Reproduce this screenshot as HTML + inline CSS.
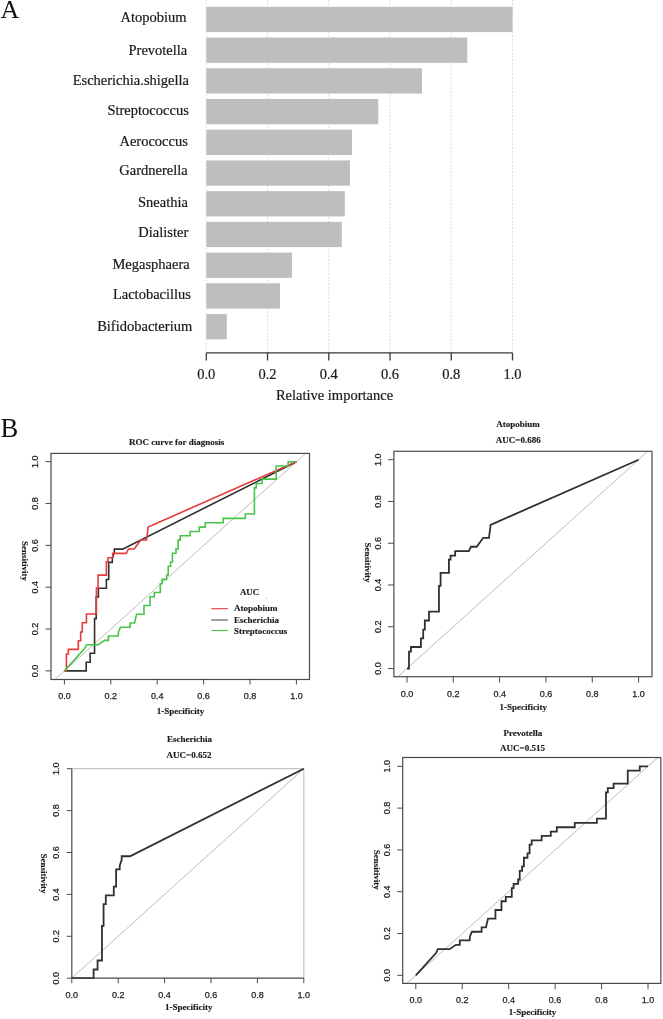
<!DOCTYPE html>
<html><head><meta charset="utf-8"><title>Figure</title>
<style>
html,body{margin:0;padding:0;background:#fff;width:663px;height:1019px;overflow:hidden;}
svg{position:absolute;left:0;top:0;display:block;will-change:transform;}
</style></head><body>
<svg width="663" height="1019" viewBox="0 0 663 1019">
<rect x="0" y="0" width="663" height="1019" fill="#fff"/>
<text x="0.5" y="17.8" font-family='"Liberation Serif", serif' font-size="26" font-weight="normal" text-anchor="start" fill="#111">A</text>
<line x1="206.3" y1="0" x2="206.3" y2="352" stroke="#d6d6d6" stroke-width="0.9" stroke-dasharray="1.8 1.7"/>
<line x1="267.54" y1="0" x2="267.54" y2="352" stroke="#d6d6d6" stroke-width="0.9" stroke-dasharray="1.8 1.7"/>
<line x1="328.78" y1="0" x2="328.78" y2="352" stroke="#d6d6d6" stroke-width="0.9" stroke-dasharray="1.8 1.7"/>
<line x1="390.02" y1="0" x2="390.02" y2="352" stroke="#d6d6d6" stroke-width="0.9" stroke-dasharray="1.8 1.7"/>
<line x1="451.26" y1="0" x2="451.26" y2="352" stroke="#d6d6d6" stroke-width="0.9" stroke-dasharray="1.8 1.7"/>
<line x1="512.5" y1="0" x2="512.5" y2="352" stroke="#d6d6d6" stroke-width="0.9" stroke-dasharray="1.8 1.7"/>
<rect x="206.3" y="6.8" width="306.2" height="25.3" fill="#bebebe"/>
<text x="186.6" y="21.9" font-family='"Liberation Serif", serif' font-size="14.5" font-weight="normal" text-anchor="end" fill="#1a1a1a" stroke="#1a1a1a" stroke-width="0.2">Atopobium</text>
<rect x="206.3" y="37.52" width="261" height="25.3" fill="#bebebe"/>
<text x="187.3" y="54.7" font-family='"Liberation Serif", serif' font-size="14.5" font-weight="normal" text-anchor="end" fill="#1a1a1a" stroke="#1a1a1a" stroke-width="0.2">Prevotella</text>
<rect x="206.3" y="68.24" width="215.7" height="25.3" fill="#bebebe"/>
<text x="189" y="85.3" font-family='"Liberation Serif", serif' font-size="14.5" font-weight="normal" text-anchor="end" fill="#1a1a1a" stroke="#1a1a1a" stroke-width="0.2">Escherichia.shigella</text>
<rect x="206.3" y="98.96" width="172" height="25.3" fill="#bebebe"/>
<text x="188.8" y="115.4" font-family='"Liberation Serif", serif' font-size="14.5" font-weight="normal" text-anchor="end" fill="#1a1a1a" stroke="#1a1a1a" stroke-width="0.2">Streptococcus</text>
<rect x="206.3" y="129.68" width="145.7" height="25.3" fill="#bebebe"/>
<text x="187.9" y="145.6" font-family='"Liberation Serif", serif' font-size="14.5" font-weight="normal" text-anchor="end" fill="#1a1a1a" stroke="#1a1a1a" stroke-width="0.2">Aerococcus</text>
<rect x="206.3" y="160.4" width="143.6" height="25.3" fill="#bebebe"/>
<text x="187.7" y="175" font-family='"Liberation Serif", serif' font-size="14.5" font-weight="normal" text-anchor="end" fill="#1a1a1a" stroke="#1a1a1a" stroke-width="0.2">Gardnerella</text>
<rect x="206.3" y="191.12" width="138.5" height="25.3" fill="#bebebe"/>
<text x="187.9" y="207.4" font-family='"Liberation Serif", serif' font-size="14.5" font-weight="normal" text-anchor="end" fill="#1a1a1a" stroke="#1a1a1a" stroke-width="0.2">Sneathia</text>
<rect x="206.3" y="221.84" width="135.5" height="25.3" fill="#bebebe"/>
<text x="188.3" y="236.9" font-family='"Liberation Serif", serif' font-size="14.5" font-weight="normal" text-anchor="end" fill="#1a1a1a" stroke="#1a1a1a" stroke-width="0.2">Dialister</text>
<rect x="206.3" y="252.56" width="85.7" height="25.3" fill="#bebebe"/>
<text x="189.7" y="268.6" font-family='"Liberation Serif", serif' font-size="14.5" font-weight="normal" text-anchor="end" fill="#1a1a1a" stroke="#1a1a1a" stroke-width="0.2">Megasphaera</text>
<rect x="206.3" y="283.28" width="73.7" height="25.3" fill="#bebebe"/>
<text x="191" y="299" font-family='"Liberation Serif", serif' font-size="14.5" font-weight="normal" text-anchor="end" fill="#1a1a1a" stroke="#1a1a1a" stroke-width="0.2">Lactobacillus</text>
<rect x="206.3" y="314" width="20.5" height="25.3" fill="#bebebe"/>
<text x="192.2" y="331.4" font-family='"Liberation Serif", serif' font-size="14.5" font-weight="normal" text-anchor="end" fill="#1a1a1a" stroke="#1a1a1a" stroke-width="0.2">Bifidobacterium</text>
<line x1="206.3" y1="352.8" x2="512.5" y2="352.8" stroke="#3a3a3a" stroke-width="1.3"/>
<line x1="206.3" y1="352.8" x2="206.3" y2="360.5" stroke="#3a3a3a" stroke-width="1.3"/>
<text x="206.3" y="378.5" font-family='"Liberation Serif", serif' font-size="14.5" font-weight="normal" text-anchor="middle" fill="#1a1a1a" stroke="#1a1a1a" stroke-width="0.2">0.0</text>
<line x1="267.54" y1="352.8" x2="267.54" y2="360.5" stroke="#3a3a3a" stroke-width="1.3"/>
<text x="267.54" y="378.5" font-family='"Liberation Serif", serif' font-size="14.5" font-weight="normal" text-anchor="middle" fill="#1a1a1a" stroke="#1a1a1a" stroke-width="0.2">0.2</text>
<line x1="328.78" y1="352.8" x2="328.78" y2="360.5" stroke="#3a3a3a" stroke-width="1.3"/>
<text x="328.78" y="378.5" font-family='"Liberation Serif", serif' font-size="14.5" font-weight="normal" text-anchor="middle" fill="#1a1a1a" stroke="#1a1a1a" stroke-width="0.2">0.4</text>
<line x1="390.02" y1="352.8" x2="390.02" y2="360.5" stroke="#3a3a3a" stroke-width="1.3"/>
<text x="390.02" y="378.5" font-family='"Liberation Serif", serif' font-size="14.5" font-weight="normal" text-anchor="middle" fill="#1a1a1a" stroke="#1a1a1a" stroke-width="0.2">0.6</text>
<line x1="451.26" y1="352.8" x2="451.26" y2="360.5" stroke="#3a3a3a" stroke-width="1.3"/>
<text x="451.26" y="378.5" font-family='"Liberation Serif", serif' font-size="14.5" font-weight="normal" text-anchor="middle" fill="#1a1a1a" stroke="#1a1a1a" stroke-width="0.2">0.8</text>
<line x1="512.5" y1="352.8" x2="512.5" y2="360.5" stroke="#3a3a3a" stroke-width="1.3"/>
<text x="512.5" y="378.5" font-family='"Liberation Serif", serif' font-size="14.5" font-weight="normal" text-anchor="middle" fill="#1a1a1a" stroke="#1a1a1a" stroke-width="0.2">1.0</text>
<text x="334.5" y="400" font-family='"Liberation Serif", serif' font-size="14.5" font-weight="normal" text-anchor="middle" fill="#1a1a1a" stroke="#1a1a1a" stroke-width="0.2">Relative importance</text>
<text x="0.6" y="436.7" font-family='"Liberation Serif", serif' font-size="26.6" font-weight="normal" text-anchor="start" fill="#111" transform="translate(0 0)">B</text>
<text x="129.1" y="445" font-family='"Liberation Serif", serif' font-size="9" font-weight="bold" text-anchor="start" fill="#1a1a1a" stroke="#1a1a1a" stroke-width="0.15">ROC curve for diagnosis</text>
<clipPath id="c1"><rect x="51" y="453.4" width="258.5" height="226.1"/></clipPath>
<g clip-path="url(#c1)">
<line x1="18" y1="712.74" x2="342.8" y2="419.86" stroke="#b4b4b4" stroke-width="0.9"/>
<polyline points="64.4,670.9 86.21,670.9 86.21,662.22 90.15,662.22 90.15,653.22 94.56,653.22 94.56,618.6 96.18,618.6 96.18,596.84 98.41,596.84 98.41,588.27 106.39,588.27 106.39,579.48 108.71,579.48 108.71,562.33 112.31,562.33 112.31,558.56 114.28,552.7 114.28,549.15 122.63,549.15 296.4,461.7" fill="none" stroke="#303030" stroke-width="1.6" stroke-linejoin="miter"/>
<polyline points="64.4,670.9 66.4,670.9 66.4,653.95 68.34,653.95 68.34,649.35 78.32,649.35 78.32,640.78 80.64,640.78 80.64,631.99 82.26,631.99 82.26,622.78 86.44,622.78 86.44,614 96.42,614 96.42,588.06 98.04,588.06 98.04,575.09 106.39,575.09 106.39,561.8 108.02,561.8 108.02,557.72 112.66,557.72 112.66,553.33 126.34,553.33 128.43,548.94 134.23,548.94 140.73,539.94 146.53,539.94 148.15,526.97 296.4,461.7" fill="none" stroke="#e63a3c" stroke-width="1.6" stroke-linejoin="miter"/>
<polyline points="64.4,670.9 84.82,648.31 86.44,644.75 98.18,644.75 104.54,640.4 108.36,640.4 108.36,636.03 118.15,636.03 118.55,631.67 120.45,627.32 130.15,627.32 130.15,622.95 134.46,622.95 136.55,614.25 143.98,614.25 143.98,605.52 150.01,605.52 150.01,596.8 154.32,596.8 154.32,592.45 160.31,592.45 160.31,583.73 162.07,583.73 162.07,579.38 166.62,579.38 166.62,575.02 168.22,575.02 168.22,566.3 170.61,566.3 170.61,561.95 172.4,561.95 172.4,553.23 175.99,553.23 175.99,548.87 178.08,548.87 178.08,540.15 180.17,540.15 180.17,535.8 190.14,535.8 190.14,531.43 199.26,531.43 199.26,527.08 205.27,527.08 205.27,522.72 223.2,522.72 223.2,518.35 245.31,518.35 245.31,514 254.41,514 254.41,487.85 256.24,487.85 256.24,483.5 262.06,483.5 262.06,479.13 276.17,479.13 276.17,466.05 288.16,466.05 288.16,461.7 296.4,461.7" fill="none" stroke="#48c448" stroke-width="1.6" stroke-linejoin="miter"/>
</g>
<rect x="51" y="453.4" width="258.5" height="226.1" fill="none" stroke="#4a4a4a" stroke-width="1.2"/>
<line x1="45.5" y1="670.9" x2="51" y2="670.9" stroke="#4a4a4a" stroke-width="1"/>
<text x="38" y="670.9" font-family='"Liberation Sans", sans-serif' font-size="9" font-weight="normal" text-anchor="middle" fill="#222" transform="rotate(-90 38 670.9)" stroke="#222" stroke-width="0.25">0.0</text>
<line x1="64.4" y1="679.5" x2="64.4" y2="684.5" stroke="#4a4a4a" stroke-width="1"/>
<text x="64.4" y="698.8" font-family='"Liberation Sans", sans-serif' font-size="9" font-weight="normal" text-anchor="middle" fill="#222" stroke="#222" stroke-width="0.25">0.0</text>
<line x1="45.5" y1="629.06" x2="51" y2="629.06" stroke="#4a4a4a" stroke-width="1"/>
<text x="38" y="629.06" font-family='"Liberation Sans", sans-serif' font-size="9" font-weight="normal" text-anchor="middle" fill="#222" transform="rotate(-90 38 629.06)" stroke="#222" stroke-width="0.25">0.2</text>
<line x1="110.8" y1="679.5" x2="110.8" y2="684.5" stroke="#4a4a4a" stroke-width="1"/>
<text x="110.8" y="698.8" font-family='"Liberation Sans", sans-serif' font-size="9" font-weight="normal" text-anchor="middle" fill="#222" stroke="#222" stroke-width="0.25">0.2</text>
<line x1="45.5" y1="587.22" x2="51" y2="587.22" stroke="#4a4a4a" stroke-width="1"/>
<text x="38" y="587.22" font-family='"Liberation Sans", sans-serif' font-size="9" font-weight="normal" text-anchor="middle" fill="#222" transform="rotate(-90 38 587.22)" stroke="#222" stroke-width="0.25">0.4</text>
<line x1="157.2" y1="679.5" x2="157.2" y2="684.5" stroke="#4a4a4a" stroke-width="1"/>
<text x="157.2" y="698.8" font-family='"Liberation Sans", sans-serif' font-size="9" font-weight="normal" text-anchor="middle" fill="#222" stroke="#222" stroke-width="0.25">0.4</text>
<line x1="45.5" y1="545.38" x2="51" y2="545.38" stroke="#4a4a4a" stroke-width="1"/>
<text x="38" y="545.38" font-family='"Liberation Sans", sans-serif' font-size="9" font-weight="normal" text-anchor="middle" fill="#222" transform="rotate(-90 38 545.38)" stroke="#222" stroke-width="0.25">0.6</text>
<line x1="203.6" y1="679.5" x2="203.6" y2="684.5" stroke="#4a4a4a" stroke-width="1"/>
<text x="203.6" y="698.8" font-family='"Liberation Sans", sans-serif' font-size="9" font-weight="normal" text-anchor="middle" fill="#222" stroke="#222" stroke-width="0.25">0.6</text>
<line x1="45.5" y1="503.54" x2="51" y2="503.54" stroke="#4a4a4a" stroke-width="1"/>
<text x="38" y="503.54" font-family='"Liberation Sans", sans-serif' font-size="9" font-weight="normal" text-anchor="middle" fill="#222" transform="rotate(-90 38 503.54)" stroke="#222" stroke-width="0.25">0.8</text>
<line x1="250" y1="679.5" x2="250" y2="684.5" stroke="#4a4a4a" stroke-width="1"/>
<text x="250" y="698.8" font-family='"Liberation Sans", sans-serif' font-size="9" font-weight="normal" text-anchor="middle" fill="#222" stroke="#222" stroke-width="0.25">0.8</text>
<line x1="45.5" y1="461.7" x2="51" y2="461.7" stroke="#4a4a4a" stroke-width="1"/>
<text x="38" y="461.7" font-family='"Liberation Sans", sans-serif' font-size="9" font-weight="normal" text-anchor="middle" fill="#222" transform="rotate(-90 38 461.7)" stroke="#222" stroke-width="0.25">1.0</text>
<line x1="296.4" y1="679.5" x2="296.4" y2="684.5" stroke="#4a4a4a" stroke-width="1"/>
<text x="296.4" y="698.8" font-family='"Liberation Sans", sans-serif' font-size="9" font-weight="normal" text-anchor="middle" fill="#222" stroke="#222" stroke-width="0.25">1.0</text>
<text x="156.8" y="713.5" font-family='"Liberation Serif", serif' font-size="9" font-weight="bold" text-anchor="start" fill="#1a1a1a" stroke="#1a1a1a" stroke-width="0.15">1-Specificity</text>
<text x="21.5" y="540.9" font-family='"Liberation Serif", serif' font-size="9" font-weight="bold" text-anchor="start" fill="#1a1a1a" transform="rotate(90 21.5 540.9)" stroke="#1a1a1a" stroke-width="0.15">Sensitivity</text>
<text x="240" y="594.8" font-family='"Liberation Serif", serif' font-size="8.8" font-weight="bold" text-anchor="start" fill="#1a1a1a" stroke="#1a1a1a" stroke-width="0.15">AUC</text>
<circle cx="266.4" cy="598.1" r="0.5" fill="#888"/>
<line x1="211.3" y1="608.7" x2="227.9" y2="608.7" stroke="#e63a3c" stroke-width="1.1"/>
<text x="234" y="611.4" font-family='"Liberation Serif", serif' font-size="9" font-weight="bold" text-anchor="start" fill="#1a1a1a" stroke="#1a1a1a" stroke-width="0.15">Atopobium</text>
<line x1="211.3" y1="620" x2="227.9" y2="620" stroke="#505050" stroke-width="1.1"/>
<text x="234" y="622.7" font-family='"Liberation Serif", serif' font-size="9" font-weight="bold" text-anchor="start" fill="#1a1a1a" stroke="#1a1a1a" stroke-width="0.15">Escherichia</text>
<line x1="211.3" y1="630.5" x2="227.9" y2="630.5" stroke="#48c448" stroke-width="1.1"/>
<text x="234" y="633.5" font-family='"Liberation Serif", serif' font-size="9" font-weight="bold" text-anchor="start" fill="#1a1a1a" stroke="#1a1a1a" stroke-width="0.15">Streptococcus</text>
<text x="496.3" y="426.8" font-family='"Liberation Serif", serif' font-size="9" font-weight="bold" text-anchor="start" fill="#1a1a1a" stroke="#1a1a1a" stroke-width="0.15">Atopobium</text>
<text x="495.8" y="442.9" font-family='"Liberation Serif", serif' font-size="9" font-weight="bold" text-anchor="start" fill="#1a1a1a" stroke="#1a1a1a" stroke-width="0.15">AUC=0.686</text>
<clipPath id="c2"><rect x="393.9" y="451.3" width="258.1" height="225.4"/></clipPath>
<g clip-path="url(#c2)">
<line x1="360.68" y1="710.26" x2="684.92" y2="417.94" stroke="#b4b4b4" stroke-width="0.9"/>
<polyline points="407,668.5 408.99,668.5 408.99,651.59 410.94,651.59 410.94,646.99 420.9,646.99 420.9,638.43 423.21,638.43 423.21,629.66 424.83,629.66 424.83,620.48 429,620.48 429,611.71 438.96,611.71 438.96,585.82 440.58,585.82 440.58,572.87 448.92,572.87 448.92,559.61 450.54,559.61 450.54,555.54 455.17,555.54 455.17,551.15 468.84,551.15 470.92,546.77 476.71,546.77 483.2,537.79 488.99,537.79 490.61,524.85 638.6,459.7" fill="none" stroke="#303030" stroke-width="1.8" stroke-linejoin="miter"/>
</g>
<rect x="393.9" y="451.3" width="258.1" height="225.4" fill="none" stroke="#4a4a4a" stroke-width="1.2"/>
<line x1="388" y1="668.5" x2="393.9" y2="668.5" stroke="#4a4a4a" stroke-width="1"/>
<text x="381.2" y="668.5" font-family='"Liberation Sans", sans-serif' font-size="9" font-weight="normal" text-anchor="middle" fill="#222" transform="rotate(-90 381.2 668.5)" stroke="#222" stroke-width="0.25">0.0</text>
<line x1="407" y1="676.7" x2="407" y2="682.5" stroke="#4a4a4a" stroke-width="1"/>
<text x="407" y="696.6" font-family='"Liberation Sans", sans-serif' font-size="9" font-weight="normal" text-anchor="middle" fill="#222" stroke="#222" stroke-width="0.25">0.0</text>
<line x1="388" y1="626.74" x2="393.9" y2="626.74" stroke="#4a4a4a" stroke-width="1"/>
<text x="381.2" y="626.74" font-family='"Liberation Sans", sans-serif' font-size="9" font-weight="normal" text-anchor="middle" fill="#222" transform="rotate(-90 381.2 626.74)" stroke="#222" stroke-width="0.25">0.2</text>
<line x1="453.32" y1="676.7" x2="453.32" y2="682.5" stroke="#4a4a4a" stroke-width="1"/>
<text x="453.32" y="696.6" font-family='"Liberation Sans", sans-serif' font-size="9" font-weight="normal" text-anchor="middle" fill="#222" stroke="#222" stroke-width="0.25">0.2</text>
<line x1="388" y1="584.98" x2="393.9" y2="584.98" stroke="#4a4a4a" stroke-width="1"/>
<text x="381.2" y="584.98" font-family='"Liberation Sans", sans-serif' font-size="9" font-weight="normal" text-anchor="middle" fill="#222" transform="rotate(-90 381.2 584.98)" stroke="#222" stroke-width="0.25">0.4</text>
<line x1="499.64" y1="676.7" x2="499.64" y2="682.5" stroke="#4a4a4a" stroke-width="1"/>
<text x="499.64" y="696.6" font-family='"Liberation Sans", sans-serif' font-size="9" font-weight="normal" text-anchor="middle" fill="#222" stroke="#222" stroke-width="0.25">0.4</text>
<line x1="388" y1="543.22" x2="393.9" y2="543.22" stroke="#4a4a4a" stroke-width="1"/>
<text x="381.2" y="543.22" font-family='"Liberation Sans", sans-serif' font-size="9" font-weight="normal" text-anchor="middle" fill="#222" transform="rotate(-90 381.2 543.22)" stroke="#222" stroke-width="0.25">0.6</text>
<line x1="545.96" y1="676.7" x2="545.96" y2="682.5" stroke="#4a4a4a" stroke-width="1"/>
<text x="545.96" y="696.6" font-family='"Liberation Sans", sans-serif' font-size="9" font-weight="normal" text-anchor="middle" fill="#222" stroke="#222" stroke-width="0.25">0.6</text>
<line x1="388" y1="501.46" x2="393.9" y2="501.46" stroke="#4a4a4a" stroke-width="1"/>
<text x="381.2" y="501.46" font-family='"Liberation Sans", sans-serif' font-size="9" font-weight="normal" text-anchor="middle" fill="#222" transform="rotate(-90 381.2 501.46)" stroke="#222" stroke-width="0.25">0.8</text>
<line x1="592.28" y1="676.7" x2="592.28" y2="682.5" stroke="#4a4a4a" stroke-width="1"/>
<text x="592.28" y="696.6" font-family='"Liberation Sans", sans-serif' font-size="9" font-weight="normal" text-anchor="middle" fill="#222" stroke="#222" stroke-width="0.25">0.8</text>
<line x1="388" y1="459.7" x2="393.9" y2="459.7" stroke="#4a4a4a" stroke-width="1"/>
<text x="381.2" y="459.7" font-family='"Liberation Sans", sans-serif' font-size="9" font-weight="normal" text-anchor="middle" fill="#222" transform="rotate(-90 381.2 459.7)" stroke="#222" stroke-width="0.25">1.0</text>
<line x1="638.6" y1="676.7" x2="638.6" y2="682.5" stroke="#4a4a4a" stroke-width="1"/>
<text x="638.6" y="696.6" font-family='"Liberation Sans", sans-serif' font-size="9" font-weight="normal" text-anchor="middle" fill="#222" stroke="#222" stroke-width="0.25">1.0</text>
<text x="499.6" y="709.9" font-family='"Liberation Serif", serif' font-size="9" font-weight="bold" text-anchor="start" fill="#1a1a1a" stroke="#1a1a1a" stroke-width="0.15">1-Specificity</text>
<text x="365" y="542.4" font-family='"Liberation Serif", serif' font-size="9" font-weight="bold" text-anchor="start" fill="#1a1a1a" transform="rotate(90 365 542.4)" stroke="#1a1a1a" stroke-width="0.15">Sensitivity</text>
<text x="166.9" y="742.1" font-family='"Liberation Serif", serif' font-size="9" font-weight="bold" text-anchor="start" fill="#1a1a1a" stroke="#1a1a1a" stroke-width="0.15">Escherichia</text>
<text x="166.6" y="757.7" font-family='"Liberation Serif", serif' font-size="9" font-weight="bold" text-anchor="start" fill="#1a1a1a" stroke="#1a1a1a" stroke-width="0.15">AUC=0.652</text>
<clipPath id="c3"><rect x="71.8" y="768.7" width="232" height="209.5"/></clipPath>
<line x1="71.8" y1="768.7" x2="303.8" y2="768.7" stroke="#c4c4c4" stroke-width="1.2"/>
<line x1="303.8" y1="768.7" x2="303.8" y2="978.2" stroke="#c4c4c4" stroke-width="1.2"/>
<g clip-path="url(#c3)">
<line x1="71.8" y1="978.2" x2="303.8" y2="768.7" stroke="#b4b4b4" stroke-width="0.9"/>
</g>
<polyline points="71.8,978.2 93.61,978.2 93.61,969.51 97.55,969.51 97.55,960.5 101.96,960.5 101.96,925.83 103.58,925.83 103.58,904.04 105.81,904.04 105.81,895.45 113.79,895.45 113.79,886.65 116.11,886.65 116.11,869.47 119.71,869.47 119.71,865.7 121.68,859.83 121.68,856.27 130.03,856.27 303.8,768.7" fill="none" stroke="#303030" stroke-width="1.8" stroke-linejoin="miter"/>
<line x1="71.8" y1="978.2" x2="71.8" y2="768.7" stroke="#4a4a4a" stroke-width="1.2"/>
<line x1="71.8" y1="978.2" x2="303.8" y2="978.2" stroke="#4a4a4a" stroke-width="1.2"/>
<line x1="66.8" y1="978.2" x2="71.8" y2="978.2" stroke="#4a4a4a" stroke-width="1"/>
<text x="59.2" y="978.2" font-family='"Liberation Sans", sans-serif' font-size="9" font-weight="normal" text-anchor="middle" fill="#222" transform="rotate(-90 59.2 978.2)" stroke="#222" stroke-width="0.25">0.0</text>
<line x1="71.8" y1="978.2" x2="71.8" y2="983.2" stroke="#4a4a4a" stroke-width="1"/>
<text x="71.8" y="997.7" font-family='"Liberation Sans", sans-serif' font-size="9" font-weight="normal" text-anchor="middle" fill="#222" stroke="#222" stroke-width="0.25">0.0</text>
<line x1="66.8" y1="936.3" x2="71.8" y2="936.3" stroke="#4a4a4a" stroke-width="1"/>
<text x="59.2" y="936.3" font-family='"Liberation Sans", sans-serif' font-size="9" font-weight="normal" text-anchor="middle" fill="#222" transform="rotate(-90 59.2 936.3)" stroke="#222" stroke-width="0.25">0.2</text>
<line x1="118.2" y1="978.2" x2="118.2" y2="983.2" stroke="#4a4a4a" stroke-width="1"/>
<text x="118.2" y="997.7" font-family='"Liberation Sans", sans-serif' font-size="9" font-weight="normal" text-anchor="middle" fill="#222" stroke="#222" stroke-width="0.25">0.2</text>
<line x1="66.8" y1="894.4" x2="71.8" y2="894.4" stroke="#4a4a4a" stroke-width="1"/>
<text x="59.2" y="894.4" font-family='"Liberation Sans", sans-serif' font-size="9" font-weight="normal" text-anchor="middle" fill="#222" transform="rotate(-90 59.2 894.4)" stroke="#222" stroke-width="0.25">0.4</text>
<line x1="164.6" y1="978.2" x2="164.6" y2="983.2" stroke="#4a4a4a" stroke-width="1"/>
<text x="164.6" y="997.7" font-family='"Liberation Sans", sans-serif' font-size="9" font-weight="normal" text-anchor="middle" fill="#222" stroke="#222" stroke-width="0.25">0.4</text>
<line x1="66.8" y1="852.5" x2="71.8" y2="852.5" stroke="#4a4a4a" stroke-width="1"/>
<text x="59.2" y="852.5" font-family='"Liberation Sans", sans-serif' font-size="9" font-weight="normal" text-anchor="middle" fill="#222" transform="rotate(-90 59.2 852.5)" stroke="#222" stroke-width="0.25">0.6</text>
<line x1="211" y1="978.2" x2="211" y2="983.2" stroke="#4a4a4a" stroke-width="1"/>
<text x="211" y="997.7" font-family='"Liberation Sans", sans-serif' font-size="9" font-weight="normal" text-anchor="middle" fill="#222" stroke="#222" stroke-width="0.25">0.6</text>
<line x1="66.8" y1="810.6" x2="71.8" y2="810.6" stroke="#4a4a4a" stroke-width="1"/>
<text x="59.2" y="810.6" font-family='"Liberation Sans", sans-serif' font-size="9" font-weight="normal" text-anchor="middle" fill="#222" transform="rotate(-90 59.2 810.6)" stroke="#222" stroke-width="0.25">0.8</text>
<line x1="257.4" y1="978.2" x2="257.4" y2="983.2" stroke="#4a4a4a" stroke-width="1"/>
<text x="257.4" y="997.7" font-family='"Liberation Sans", sans-serif' font-size="9" font-weight="normal" text-anchor="middle" fill="#222" stroke="#222" stroke-width="0.25">0.8</text>
<line x1="66.8" y1="768.7" x2="71.8" y2="768.7" stroke="#4a4a4a" stroke-width="1"/>
<text x="59.2" y="768.7" font-family='"Liberation Sans", sans-serif' font-size="9" font-weight="normal" text-anchor="middle" fill="#222" transform="rotate(-90 59.2 768.7)" stroke="#222" stroke-width="0.25">1.0</text>
<line x1="303.8" y1="978.2" x2="303.8" y2="983.2" stroke="#4a4a4a" stroke-width="1"/>
<text x="303.8" y="997.7" font-family='"Liberation Sans", sans-serif' font-size="9" font-weight="normal" text-anchor="middle" fill="#222" stroke="#222" stroke-width="0.25">1.0</text>
<text x="164.9" y="1010.3" font-family='"Liberation Serif", serif' font-size="9" font-weight="bold" text-anchor="start" fill="#1a1a1a" stroke="#1a1a1a" stroke-width="0.15">1-Specificity</text>
<text x="40.6" y="853.6" font-family='"Liberation Serif", serif' font-size="9" font-weight="bold" text-anchor="start" fill="#1a1a1a" transform="rotate(90 40.6 853.6)" stroke="#1a1a1a" stroke-width="0.15">Sensitivity</text>
<text x="503.4" y="735.6" font-family='"Liberation Serif", serif' font-size="9" font-weight="bold" text-anchor="start" fill="#1a1a1a" stroke="#1a1a1a" stroke-width="0.15">Prevotella</text>
<text x="500" y="751.4" font-family='"Liberation Serif", serif' font-size="9" font-weight="bold" text-anchor="start" fill="#1a1a1a" stroke="#1a1a1a" stroke-width="0.15">AUC=0.515</text>
<clipPath id="c4"><rect x="402.7" y="757.5" width="258.1" height="225.9"/></clipPath>
<g clip-path="url(#c4)">
<line x1="369.36" y1="1017.1" x2="694.44" y2="724.5" stroke="#b4b4b4" stroke-width="0.9"/>
<polyline points="415.8,975.3 436.23,952.73 437.86,949.17 449.61,949.17 455.97,944.83 459.8,944.83 459.8,940.46 469.6,940.46 470,936.11 471.9,931.77 481.61,931.77 481.61,927.4 485.92,927.4 488.01,918.7 495.44,918.7 495.44,909.99 501.48,909.99 501.48,901.27 505.8,901.27 505.8,896.92 511.79,896.92 511.79,888.21 513.56,888.21 513.56,883.86 518.11,883.86 518.11,879.52 519.71,879.52 519.71,870.8 522.1,870.8 522.1,866.45 523.89,866.45 523.89,857.74 527.49,857.74 527.49,853.39 529.58,853.39 529.58,844.67 531.67,844.67 531.67,840.33 541.65,840.33 541.65,835.96 550.78,835.96 550.78,831.61 556.79,831.61 556.79,827.27 574.74,827.27 574.74,822.9 596.87,822.9 596.87,818.55 605.97,818.55 605.97,792.42 607.81,792.42 607.81,788.08 613.63,788.08 613.63,783.71 627.75,783.71 627.75,770.65 639.76,770.65 639.76,766.3 648,766.3" fill="none" stroke="#303030" stroke-width="1.8" stroke-linejoin="miter"/>
</g>
<rect x="402.7" y="757.5" width="258.1" height="225.9" fill="none" stroke="#4a4a4a" stroke-width="1.2"/>
<line x1="397.3" y1="975.3" x2="402.7" y2="975.3" stroke="#4a4a4a" stroke-width="1"/>
<text x="389.7" y="975.3" font-family='"Liberation Sans", sans-serif' font-size="9" font-weight="normal" text-anchor="middle" fill="#222" transform="rotate(-90 389.7 975.3)" stroke="#222" stroke-width="0.25">0.0</text>
<line x1="415.8" y1="983.4" x2="415.8" y2="989.2" stroke="#4a4a4a" stroke-width="1"/>
<text x="415.8" y="1003" font-family='"Liberation Sans", sans-serif' font-size="9" font-weight="normal" text-anchor="middle" fill="#222" stroke="#222" stroke-width="0.25">0.0</text>
<line x1="397.3" y1="933.5" x2="402.7" y2="933.5" stroke="#4a4a4a" stroke-width="1"/>
<text x="389.7" y="933.5" font-family='"Liberation Sans", sans-serif' font-size="9" font-weight="normal" text-anchor="middle" fill="#222" transform="rotate(-90 389.7 933.5)" stroke="#222" stroke-width="0.25">0.2</text>
<line x1="462.24" y1="983.4" x2="462.24" y2="989.2" stroke="#4a4a4a" stroke-width="1"/>
<text x="462.24" y="1003" font-family='"Liberation Sans", sans-serif' font-size="9" font-weight="normal" text-anchor="middle" fill="#222" stroke="#222" stroke-width="0.25">0.2</text>
<line x1="397.3" y1="891.7" x2="402.7" y2="891.7" stroke="#4a4a4a" stroke-width="1"/>
<text x="389.7" y="891.7" font-family='"Liberation Sans", sans-serif' font-size="9" font-weight="normal" text-anchor="middle" fill="#222" transform="rotate(-90 389.7 891.7)" stroke="#222" stroke-width="0.25">0.4</text>
<line x1="508.68" y1="983.4" x2="508.68" y2="989.2" stroke="#4a4a4a" stroke-width="1"/>
<text x="508.68" y="1003" font-family='"Liberation Sans", sans-serif' font-size="9" font-weight="normal" text-anchor="middle" fill="#222" stroke="#222" stroke-width="0.25">0.4</text>
<line x1="397.3" y1="849.9" x2="402.7" y2="849.9" stroke="#4a4a4a" stroke-width="1"/>
<text x="389.7" y="849.9" font-family='"Liberation Sans", sans-serif' font-size="9" font-weight="normal" text-anchor="middle" fill="#222" transform="rotate(-90 389.7 849.9)" stroke="#222" stroke-width="0.25">0.6</text>
<line x1="555.12" y1="983.4" x2="555.12" y2="989.2" stroke="#4a4a4a" stroke-width="1"/>
<text x="555.12" y="1003" font-family='"Liberation Sans", sans-serif' font-size="9" font-weight="normal" text-anchor="middle" fill="#222" stroke="#222" stroke-width="0.25">0.6</text>
<line x1="397.3" y1="808.1" x2="402.7" y2="808.1" stroke="#4a4a4a" stroke-width="1"/>
<text x="389.7" y="808.1" font-family='"Liberation Sans", sans-serif' font-size="9" font-weight="normal" text-anchor="middle" fill="#222" transform="rotate(-90 389.7 808.1)" stroke="#222" stroke-width="0.25">0.8</text>
<line x1="601.56" y1="983.4" x2="601.56" y2="989.2" stroke="#4a4a4a" stroke-width="1"/>
<text x="601.56" y="1003" font-family='"Liberation Sans", sans-serif' font-size="9" font-weight="normal" text-anchor="middle" fill="#222" stroke="#222" stroke-width="0.25">0.8</text>
<line x1="397.3" y1="766.3" x2="402.7" y2="766.3" stroke="#4a4a4a" stroke-width="1"/>
<text x="389.7" y="766.3" font-family='"Liberation Sans", sans-serif' font-size="9" font-weight="normal" text-anchor="middle" fill="#222" transform="rotate(-90 389.7 766.3)" stroke="#222" stroke-width="0.25">1.0</text>
<line x1="648" y1="983.4" x2="648" y2="989.2" stroke="#4a4a4a" stroke-width="1"/>
<text x="648" y="1003" font-family='"Liberation Sans", sans-serif' font-size="9" font-weight="normal" text-anchor="middle" fill="#222" stroke="#222" stroke-width="0.25">1.0</text>
<text x="508.7" y="1014.6" font-family='"Liberation Serif", serif' font-size="9" font-weight="bold" text-anchor="start" fill="#1a1a1a" stroke="#1a1a1a" stroke-width="0.15">1-Specificity</text>
<text x="374" y="849.8" font-family='"Liberation Serif", serif' font-size="9" font-weight="bold" text-anchor="start" fill="#1a1a1a" transform="rotate(90 374 849.8)" stroke="#1a1a1a" stroke-width="0.15">Sensitivity</text>
</svg>
</body></html>
